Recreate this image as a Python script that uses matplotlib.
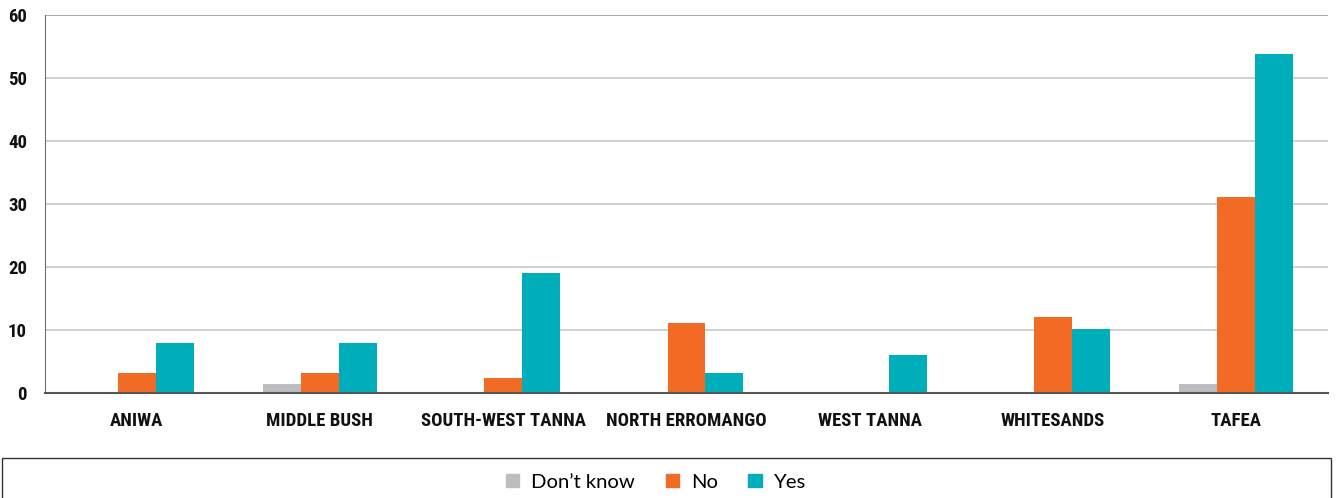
import matplotlib
matplotlib.use("Agg")
import matplotlib.pyplot as plt
import matplotlib.patches as mpatches
import numpy as np

categories = ["ANIWA", "MIDDLE BUSH", "SOUTH-WEST TANNA", "NORTH ERROMANGO",
              "WEST TANNA", "WHITESANDS", "TAFEA"]
dont_know = [0, 1.4, 0, 0, 0, 0, 1.4]
no = [3.2, 3.2, 2.4, 11.1, 0, 12.1, 31.1]
yes = [7.9, 7.9, 19.0, 3.2, 6.0, 10.2, 53.8]
series_names = ["Don\u2019t know", "No", "Yes"]
colors = ["#BCBDC0", "#F26B25", "#00AEBB"]
yticks = [0, 10, 20, 30, 40, 50, 60]

fig = plt.figure(figsize=(13.36, 4.98), dpi=100)
ax = fig.add_axes([45/1336, (498-393)/498, (1328-45)/1336, (393-15)/498])

x = np.arange(len(categories))
w = 0.207
for i, (vals, c, name) in enumerate(zip([dont_know, no, yes], colors, series_names)):
    ax.bar(x + (i - 1) * w, vals, width=w, color=c, label=name, zorder=2)

ax.set_xlim(-0.5, len(categories) - 0.5)
ax.set_ylim(0, 60)
ax.set_yticks(yticks)
ax.set_xticks(x)
ax.set_xticklabels(categories)
for y in yticks[1:]:
    ax.axhline(y, color="#C8C8C8" if y < 60 else "#9A9A9A", lw=1.2, zorder=1)
for s in ["top", "right"]:
    ax.spines[s].set_visible(False)
ax.spines["left"].set_color("#6E6E6E")
ax.spines["bottom"].set_color("#555555")
ax.spines["bottom"].set_linewidth(1.5)
ax.spines["bottom"].set_zorder(3)
ax.tick_params(length=0)
ax.tick_params(axis="y", pad=13)
ax.tick_params(axis="x", pad=14)
for lab in ax.get_yticklabels() + ax.get_xticklabels():
    lab.set_fontfamily(["Roboto Condensed", "Barlow Condensed", "Oswald", "DejaVu Sans"])
    lab.set_fontweight("bold")
    lab.set_fontsize(13.5)
    lab.set_color("#111111")

rect = mpatches.Rectangle((2/1336, -0.05), (1331-2)/1336, (498-458)/498 + 0.05,
                          transform=fig.transFigure, fill=False, edgecolor="#333333",
                          lw=1, clip_on=False)
fig.patches.append(rect)

handles = [mpatches.Patch(color=c) for c in colors]
fig.legend(handles, series_names, loc="center", bbox_to_anchor=(656/1336, (498-482)/498),
           ncol=3, frameon=False, prop=dict(family="Lato", size=14.6),
           handlelength=0.65, handleheight=0.65, handletextpad=0.6, columnspacing=1.5)

fig.savefig("out.png", dpi=100)
